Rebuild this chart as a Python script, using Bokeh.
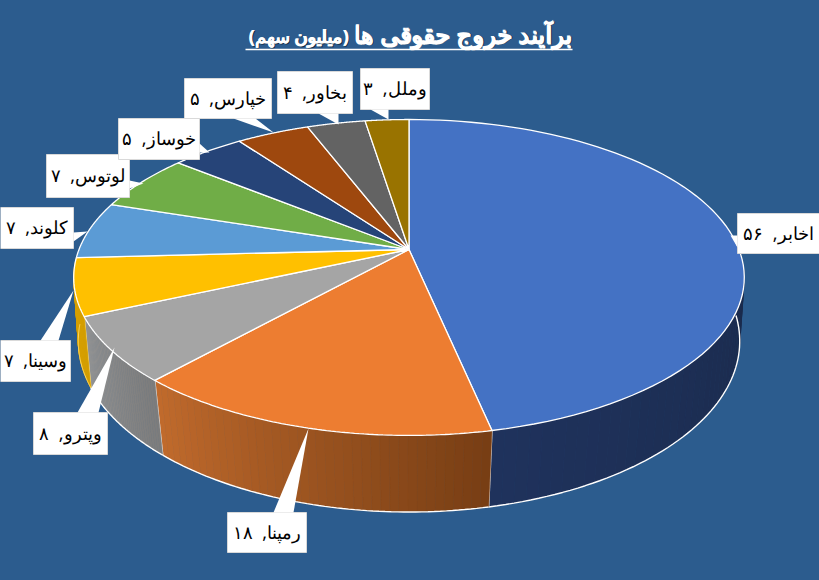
import numpy as np
from bokeh.plotting import figure
from bokeh.models import Range1d
from bokeh.core.properties import value
from bokeh.embed import file_html
from bokeh.resources import INLINE

names = ["اخابر", "رمپنا", "وپترو", "وسینا", "کلوند", "لوتوس", "خوساز", "خپارس", "بخاور", "وملل"]
values = [56, 18, 8, 7, 7, 7, 5, 5, 4, 3]
top_colors = ["#4472C4", "#ED7D31", "#A5A5A5", "#FFC000", "#5B9BD5", "#70AD47", "#264478", "#9E480E", "#636363", "#997300"]
side_shades = {
    0: ((26, 42, 75), (31, 50, 92)),
    1: ((120, 62, 20), (192, 106, 44)),
    2: ((124, 124, 124), (148, 148, 148)),
    3: ((214, 160, 0), (214, 160, 0)),
}
title_main = "برآیند خروج حقوقی ها"
title_unit = "(میلیون سهم)"

# label boxes: left, right, top, bottom, wedge (base1, base2, tip)
boxes = [
    (737, 819, 213, 253, [(737, 235), (737, 247), (730, 235)]),
    (227, 306, 512, 552, [(273, 512), (293, 512), (308, 428)]),
    (33, 107, 412, 454, [(77, 412), (98, 412), (114, 347)]),
    (0, 70, 340, 381, [(40, 340), (58, 340), (73, 290)]),
    (0, 73, 207, 248, [(73, 232), (73, 241), (87, 231)]),
    (46, 129, 154, 197, [(129, 180), (129, 188), (143, 183)]),
    (118, 199, 118, 159, [(199, 143), (199, 152), (209, 152)]),
    (184, 271, 78, 118, [(233, 118), (255, 118), (273, 132)]),
    (277, 352, 71, 113, [(318, 113), (338, 113), (338, 124)]),
    (360, 429, 68, 109, [(370, 109), (388, 109), (388, 119)]),
]


def top_rim(th):
    u, v = np.sin(th), np.cos(th)
    d = 1 + 0.177 * v
    return 408.5 + 330 * u / d, 249 - 153 * v / d


def low_rim(th):
    u, v = np.sin(th), np.cos(th)
    d = 1 + 0.15 * v
    return 408.5 + 327 * u / d, 315 - 167 * v / d


p = figure(width=819, height=580, x_range=Range1d(0, 819), y_range=Range1d(580, 0),
           output_backend="svg", toolbar_location=None, min_border=0,
           background_fill_color="#2C5C8E", border_fill_color="#2C5C8E", outline_line_color=None)
p.axis.visible = False
p.grid.visible = False

edges = np.radians(np.cumsum([0] + values) / sum(values) * 360)

# extruded side, drawn as fine strips to follow the shading
for i in [0, 1, 2, 3]:
    a, b = edges[i], edges[i + 1]
    lo = max(a, np.radians(90))
    t = np.linspace(lo, b, 41)
    right, left = side_shades[i]
    xs, ys, cs = [], [], []
    for k in range(40):
        f = k / 39
        c = tuple(int(round(right[j] * (1 - f) + left[j] * f)) for j in range(3))
        seg = t[k:k + 2]
        x1, y1 = top_rim(seg)
        x2, y2 = low_rim(seg[::-1])
        xs.append(list(x1) + list(x2))
        ys.append(list(y1) + list(y2))
        cs.append("#%02x%02x%02x" % c)
    p.patches(xs, ys, fill_color=cs, line_color=cs, line_width=0.6)
    x1, y1 = low_rim(np.linspace(lo, b, 60))
    p.line(x1, y1, line_color="#FFD966" if i == 3 else "white", line_width=1.0 if i == 3 else 1.4)
    xa, ya = top_rim(np.array([b]))
    xb, yb = low_rim(np.array([b]))
    seam = "#FFE9A0" if i == 2 else "white"
    if i < 3:
        p.line([xa[0], xb[0]], [ya[0], yb[0]], line_color=seam, line_width=1.4)

# top surface
for i in range(len(values)):
    t = np.linspace(edges[i], edges[i + 1], 80)
    x, y = top_rim(t)
    p.patch([408.5] + list(x), [249] + list(y), fill_color=top_colors[i], line_color="white", line_width=1.3)

# title
to_fa = str.maketrans("0123456789", "۰۱۲۳۴۵۶۷۸۹")
for off, col, al in [(1.4, "black", 0.5), (0, "white", 1.0), (0.5, "white", 1.0)]:
    p.text([572 + off], [33 + abs(off)], text=[title_main], text_color=col, text_alpha=al,
           text_font=value("Noto Sans"), text_font_style="bold", text_font_size="24px",
           text_align="right", text_baseline="middle")
    p.text([348 + off], [35 + abs(off)], text=[title_unit], text_color=col, text_alpha=al,
           text_font=value("Noto Sans"), text_font_style="bold", text_font_size="18px",
           text_align="right", text_baseline="middle")
p.line([245, 572], [49, 49], line_color="white", line_width=1.6)

# data labels
for (l, r, tp, bt, w), n, val in zip(boxes, names, values):
    p.quad(left=[l], right=[r], top=[tp], bottom=[bt], fill_color="white", line_color="#D9D9D9", line_width=1)
    p.patch([q[0] for q in w], [q[1] for q in w], fill_color="white", line_color=None)
for (l, r, tp, bt, w), n, val in zip(boxes, names, values):
    label = f"{n},\u00a0\u00a0{str(val).translate(to_fa)}"
    p.text([(l + r) / 2], [(tp + bt) / 2 - 1], text=[label], text_color="black",
           text_font=value("Noto Sans"), text_font_size="18px",
           text_align="center", text_baseline="middle")

html = file_html(p, INLINE)
html = html.replace("<head>", "<head><style>html,body{margin:0;background:#2C5C8E;overflow:hidden}</style>", 1)
open("out.html", "w").write(html)
